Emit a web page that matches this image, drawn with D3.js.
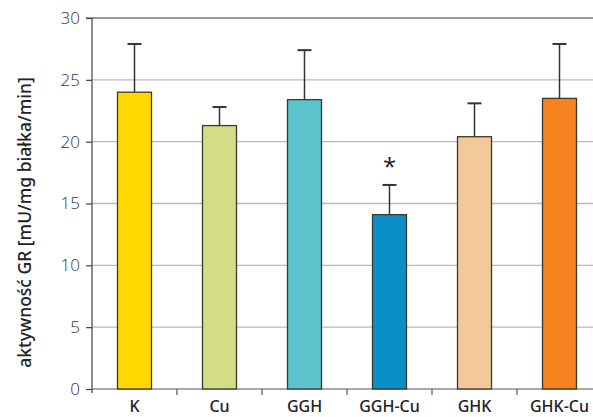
<!DOCTYPE html>
<html><head><meta charset="utf-8">
<script src="https://cdn.jsdelivr.net/npm/d3@7"></script>
<style>body{margin:0;background:#fff}svg{display:block}</style>
</head><body>
<svg id="c" width="593" height="417"></svg>
<script>
const categories = ["K","Cu","GGH","GGH-Cu","GHK","GHK-Cu"];
const means = [24.0, 21.3, 23.4, 14.1, 20.4, 23.5];
const errTops = [27.9, 22.8, 27.4, 16.5, 23.1, 27.9];
const colors = ["#ffd800","#d5dc88","#5cc3cc","#0a8fc9","#f4c99a","#f5821f"];
const marks = ["","","","*","",""];
const yTicks = [0,5,10,15,20,25,30];

const svg = d3.select("#c");
const x0 = 92, x1 = 602, yTop = 18, yBot = 389;
const x = d3.scaleBand().domain(categories).range([x0, x1]).paddingInner(0).paddingOuter(0);
const y = d3.scaleLinear().domain([0,30]).range([yBot, yTop]);
const bw = x.bandwidth()*0.4;
const font = "'Open Sans', 'Noto Sans', sans-serif";
const font2 = "'Noto Sans', 'Open Sans', sans-serif";

// gridlines
svg.append("g").selectAll("line").data(yTicks.filter(d=>d>0 && d<30)).join("line")
  .attr("x1",x0).attr("x2",593).attr("y1",d=>y(d)).attr("y2",d=>y(d))
  .attr("stroke","#b8b8b8").attr("stroke-width",1.3);
svg.append("line").attr("x1",x0).attr("x2",593).attr("y1",y(30)).attr("y2",y(30))
  .attr("stroke","#333").attr("stroke-width",1.2);

// y axis
const ya = svg.append("g").attr("transform",`translate(${x0},0)`)
  .call(d3.axisLeft(y).tickValues(yTicks).tickSize(6).tickPadding(6));
ya.select(".domain").attr("stroke","#444").attr("stroke-width",1.2);
ya.selectAll(".tick line").attr("stroke","#444").attr("stroke-width",1.2);
ya.selectAll("text").attr("font-family",font).attr("font-size",17).attr("fill","#333").attr("font-weight",300);
ya.select(".domain").attr("d",`M-6,${yTop}H0V${yBot+4}`);

// x axis
const xa = svg.append("g").attr("transform",`translate(0,${yBot})`)
  .call(d3.axisBottom(x).tickSize(0).tickPadding(12));
xa.select(".domain").attr("stroke","#555").attr("stroke-width",1.2).attr("d",`M${x0},0H593`);
xa.selectAll("text").attr("font-family",font2).attr("font-size",16).attr("fill","#222").attr("font-weight",500);
svg.append("g").selectAll("line").data(categories.slice(1)).join("line")
  .attr("x1",d=>x(d)).attr("x2",d=>x(d)).attr("y1",yBot).attr("y2",yBot+6)
  .attr("stroke","#555").attr("stroke-width",1.2);

// error bars
const eb = svg.append("g");
categories.forEach((c,i)=>{
  const cx = x(c)+x.bandwidth()/2;
  eb.append("line").attr("x1",cx).attr("x2",cx).attr("y1",y(means[i])).attr("y2",y(errTops[i]))
    .attr("stroke","#333").attr("stroke-width",1.5);
  eb.append("line").attr("x1",cx-7).attr("x2",cx+7).attr("y1",y(errTops[i])).attr("y2",y(errTops[i]))
    .attr("stroke","#333").attr("stroke-width",2);
});

// bars
svg.append("g").selectAll("rect").data(categories).join("rect")
  .attr("x",d=>x(d)+x.bandwidth()/2-bw/2).attr("width",bw)
  .attr("y",(d,i)=>y(means[i])).attr("height",(d,i)=>yBot-y(means[i]))
  .attr("fill",(d,i)=>colors[i]).attr("stroke","#3a3a2a").attr("stroke-width",1.3);

// significance marks
svg.append("g").selectAll("text").data(categories).join("text")
  .attr("x",d=>x(d)+x.bandwidth()/2).attr("y",(d,i)=>y(errTops[i])-10)
  .attr("text-anchor","middle").attr("font-family",font).attr("font-size",24).attr("fill","#222")
  .text((d,i)=>marks[i]);

// y label
svg.append("text").attr("transform",`translate(31,${(67+378)/2}) rotate(-90)`)
  .attr("text-anchor","middle").attr("font-family",font2).attr("font-size",17.5).attr("fill","#222")
  .attr("font-weight",500)
  .text("aktywność GR [mU/mg białka/min]");
</script>
</body></html>
